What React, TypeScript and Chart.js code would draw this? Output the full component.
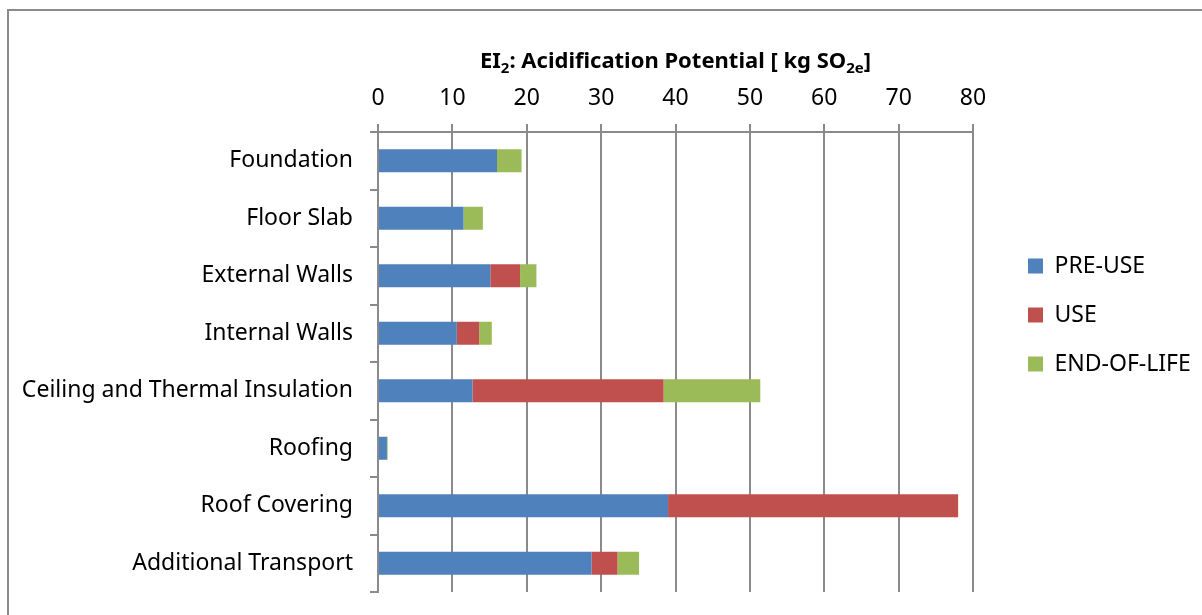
import React, { useEffect, useRef } from 'react';
import { Chart, registerables } from 'chart.js';

Chart.register(...registerables);

// ---- data ----
const categories = [
  'Foundation',
  'Floor Slab',
  'External Walls',
  'Internal Walls',
  'Ceiling and Thermal Insulation',
  'Roofing',
  'Roof Covering',
  'Additional Transport',
];
const preUse = [16.0, 11.5, 15.1, 10.6, 12.7, 1.2, 39.0, 28.7];
const useStage = [0, 0, 4.0, 3.0, 25.7, 0, 39.0, 3.5];
const endOfLife = [3.3, 2.6, 2.2, 1.7, 13.0, 0.1, 0, 2.9];
const seriesNames = ['PRE-USE', 'USE', 'END-OF-LIFE'];
const seriesColors = ['#4F81BD', '#C0504D', '#9BBB59'];
const xMin = 0;
const xMax = 80;
const xStep = 10;
const titleParts = [
  { text: 'EI', sub: false },
  { text: '2', sub: true },
  { text: ': Acidification Potential [ kg SO', sub: false },
  { text: '2e', sub: true },
  { text: ']', sub: false },
];

// ---- layout / style ----
const W = 1202;
const H = 615;
const FONT = "'Noto Sans', Lato, sans-serif";
const FS = 23;
const TITLE_FS = 22;
const SUB_FS = 15;
const GRID = '#8a8a8a';
const CHART_LEFT = 378;
const TOP_PAD = 38;
const X_AXIS_H = 94;
const BOTTOM_PAD = 23;
const LEGEND_W = 229;
const LEGEND_PAD = 26;
const LEGEND_BOX_X = 1028;
const TITLE_BASELINE = 67.5;

const layoutPlugin = {
  id: 'layoutPlugin',
  beforeLayout(chart: any) {
    const lg = chart.legend;
    if (lg && !lg.__patched) {
      const orig = lg.fit.bind(lg);
      lg.fit = () => {
        orig();
        lg.width = LEGEND_W;
      };
      lg.__patched = true;
    }
  },
  afterLayout(chart: any) {
    const lg = chart.legend;
    if (lg) {
      lg.left = LEGEND_BOX_X - LEGEND_PAD;
    }
  },
  afterDraw(chart: any) {
    const ctx = chart.ctx as CanvasRenderingContext2D;
    const area = chart.chartArea;
    ctx.save();
    ctx.fillStyle = '#000';
    ctx.textBaseline = 'alphabetic';
    ctx.textAlign = 'left';
    const fontFor = (sub: boolean) => `bold ${sub ? SUB_FS : TITLE_FS}px ${FONT}`;
    let total = 0;
    for (const p of titleParts) {
      ctx.font = fontFor(p.sub);
      total += ctx.measureText(p.text).width;
    }
    let x = (area.left + area.right) / 2 - total / 2;
    for (const p of titleParts) {
      ctx.font = fontFor(p.sub);
      ctx.fillText(p.text, x, TITLE_BASELINE + (p.sub ? 5.5 : 0));
      x += ctx.measureText(p.text).width;
    }
    ctx.restore();
  },
};

export default function App() {
  const ref = useRef<HTMLCanvasElement | null>(null);

  useEffect(() => {
    if (!ref.current) return;
    const values = [preUse, useStage, endOfLife];
    const chart = new Chart(ref.current, {
      type: 'bar',
      data: {
        labels: categories,
        datasets: seriesNames.map((name, i) => ({
          label: name,
          data: values[i],
          backgroundColor: seriesColors[i],
          borderWidth: 0,
          categoryPercentage: 1,
          barPercentage: 0.4,
        })),
      },
      options: {
        indexAxis: 'y',
        responsive: false,
        animation: false,
        devicePixelRatio: 1,
        layout: { padding: { left: 0, right: 0, top: TOP_PAD, bottom: BOTTOM_PAD } },
        plugins: {
          title: { display: false },
          tooltip: { enabled: false },
          legend: {
            display: true,
            position: 'right',
            align: 'center',
            labels: {
              boxWidth: 15,
              boxHeight: 15,
              padding: LEGEND_PAD,
              color: '#000',
              font: { family: FONT, size: FS },
            },
          },
        },
        scales: {
          x: {
            position: 'top',
            stacked: true,
            min: xMin,
            max: xMax,
            afterFit: (scale: any) => {
              scale.height = X_AXIS_H;
            },
            ticks: {
              stepSize: xStep,
              color: '#000',
              padding: 12,
              font: { family: FONT, size: FS },
            },
            grid: {
              color: GRID,
              lineWidth: 2,
              drawTicks: true,
              tickLength: 8,
            },
            border: { display: true, color: GRID, width: 2 },
          },
          y: {
            stacked: true,
            afterFit: (scale: any) => {
              scale.width = CHART_LEFT;
              scale.paddingTop = 0;
              scale.paddingBottom = 0;
            },
            ticks: {
              color: '#000',
              padding: 17,
              font: { family: FONT, size: FS },
            },
            grid: {
              display: true,
              drawOnChartArea: false,
              drawTicks: true,
              tickLength: 8,
              color: GRID,
              lineWidth: 2,
              offset: true,
            },
            border: { display: true, color: GRID, width: 2 },
          },
        },
      },
      plugins: [layoutPlugin],
    } as any);
    return () => chart.destroy();
  }, []);

  return (
    <div
      style={{
        position: 'fixed',
        left: 0,
        top: 0,
        width: W,
        height: H,
        overflow: 'hidden',
        background: '#fff',
      }}
    >
      <canvas ref={ref} width={W} height={H} style={{ display: 'block', position: 'absolute', left: 0, top: 0 }} />
      <div
        style={{
          position: 'absolute',
          left: 7,
          top: 9,
          width: 1400,
          height: 800,
          borderLeft: `2px solid ${GRID}`,
          borderTop: `2px solid ${GRID}`,
          pointerEvents: 'none',
        }}
      />
    </div>
  );
}
